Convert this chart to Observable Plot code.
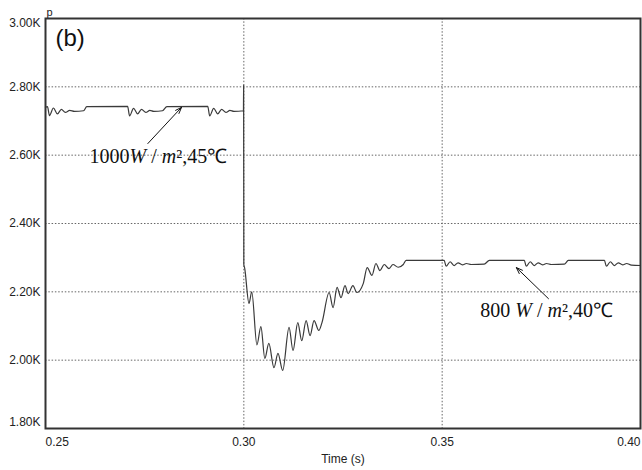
<!DOCTYPE html>
<html><head><meta charset="utf-8">
<script src="https://cdn.jsdelivr.net/npm/d3@7"></script>
<script src="https://cdn.jsdelivr.net/npm/@observablehq/plot@0.6"></script>
<style>body{margin:0;background:#fff}</style>
</head><body><div id="chart"></div>
<script>
// Time (s) and PV power p (W)
const time = [
  0.2500,0.2505,0.2510,0.2520,0.2530,0.2540,0.2550,0.2561,0.2573,0.2596,0.2604,0.2707,
  0.2712,0.2722,0.2732,0.2742,0.2753,0.2763,0.2773,0.2795,0.2806,0.2909,
  0.2914,0.2924,0.2934,0.2944,0.2955,0.2965,0.2975,0.2999,0.29995,0.3000,
  0.3002,0.3013,0.3020,0.3033,0.3043,0.3053,0.3063,0.3076,0.3086,0.3098,
  0.3114,0.3124,0.3136,0.3146,0.3157,0.3167,0.3177,0.3189,0.3197,
  0.3215,0.3225,0.3235,0.3245,0.3255,0.3263,0.3275,0.3285,0.3301,
  0.3311,0.3323,0.3333,0.3343,0.3354,0.3366,0.3376,0.3389,0.3402,0.3409,
  0.3505,0.3510,0.3520,0.3530,0.3540,0.3551,0.3561,0.3573,0.3606,0.3619,
  0.3707,0.3712,0.3722,0.3732,0.3742,0.3753,0.3763,0.3775,0.3808,0.3818,
  0.3909,0.3914,0.3924,0.3934,0.3944,0.3955,0.3965,0.3977,0.4000
];
const power = [
  2740,2742,2716,2738,2721,2734,2725,2731,2728,2730,2742,2743,
  2715,2737,2721,2734,2725,2731,2728,2730,2742,2743,
  2715,2737,2721,2734,2725,2731,2728,2730,2805,2280,
  2270,2166,2200,2045,2098,2005,2049,1978,2020,1970,
  2096,2028,2110,2057,2116,2072,2116,2087,2110,
  2198,2154,2213,2183,2218,2195,2218,2198,2224,
  2271,2248,2283,2262,2280,2268,2280,2272,2280,2292,
  2292,2275,2288,2277,2285,2279,2283,2280,2281,2292,
  2292,2275,2288,2277,2285,2279,2283,2280,2281,2292,
  2292,2275,2288,2277,2285,2279,2283,2278,2277
];
const xTicks = [0.25, 0.30, 0.35, 0.40];
const yTicks = [1800, 2000, 2200, 2400, 2600, 2800, 3000];
const panelLabel = "(b)";
const yLabel = "p";
const xLabel = "Time (s)";
const annText = ["1000W / m²,45℃", "800 W / m²,40℃"];
const annTime = [0.2611, 0.3596];
const annValue = [2578, 2125];
const arrowFromTime = [0.2758, 0.3768];
const arrowFromValue = [2634, 2180];
const arrowToTime = [0.2843, 0.3687];
const arrowToValue = [2740, 2271];

const data = time.map((t, i) => ({t, p: power[i]}));
const ann = annText.map((s, i) => ({s, t: annTime[i], p: annValue[i]}));
const arrows = arrowFromTime.map((t, i) => ({x1: t, y1: arrowFromValue[i], x2: arrowToTime[i], y2: arrowToValue[i]}));
const fmtY = d => (d / 1000).toFixed(2) + "K";
const fmtX = d => d.toFixed(2);
const gridStyle = {stroke: "#666", strokeOpacity: 1, strokeDasharray: "1.5,1.8", strokeWidth: 1};

const chart = Plot.plot({
  width: 642, height: 470,
  marginLeft: 45, marginRight: 2, marginTop: 18, marginBottom: 42,
  style: {fontFamily: "'Liberation Sans', Arial, sans-serif", fontSize: "12px", background: "#fff", color: "#222"},
  x: {domain: [0.25, 0.40], axis: null},
  y: {domain: [1800, 3000], axis: null},
  marks: [
    Plot.gridX(xTicks.slice(1, -1), gridStyle),
    Plot.gridY(yTicks.slice(1, -1), gridStyle),
    Plot.line(data, {x: "t", y: "p", stroke: "#3a3a3a", strokeWidth: 1.2, curve: "monotone-x"}),
    Plot.frame({stroke: "#333", strokeWidth: 2}),
    // y tick labels
    Plot.text(yTicks.slice(1, -1), {x: 0.25, y: d => d, text: fmtY, textAnchor: "end", dx: -5, fill: "#222"}),
    Plot.text([yTicks[0]], {x: 0.25, y: d => d, text: fmtY, textAnchor: "end", dx: -5, dy: -6, fill: "#222"}),
    Plot.text([yTicks[yTicks.length - 1]], {x: 0.25, y: d => d, text: fmtY, textAnchor: "end", dx: -5, dy: 5, fill: "#222"}),
    // x tick labels
    Plot.text([xTicks[0]], {x: d => d, y: 1800, text: fmtX, textAnchor: "start", dy: 9, lineAnchor: "top", fill: "#222"}),
    Plot.text(xTicks.slice(1, -1), {x: d => d, y: 1800, text: fmtX, textAnchor: "middle", dy: 9, lineAnchor: "top", fill: "#222"}),
    Plot.text([xTicks[xTicks.length - 1]], {x: d => d, y: 1800, text: fmtX, textAnchor: "end", dy: 9, lineAnchor: "top", fill: "#222"}),
    Plot.text([xLabel], {frameAnchor: "bottom", dy: 26, lineAnchor: "top", text: d => d, fill: "#222", fontSize: 12}),
    Plot.text([yLabel], {frameAnchor: "top-left", dx: 1, dy: -3, lineAnchor: "bottom", textAnchor: "start", text: d => d, fill: "#222", fontSize: 11}),
    Plot.text([panelLabel], {frameAnchor: "top-left", dx: 10, dy: 10, lineAnchor: "top", textAnchor: "start", text: d => d, fill: "#111", fontSize: 24}),
    // annotations
    Plot.arrow(arrows, {x1: "x1", y1: "y1", x2: "x2", y2: "y2", stroke: "#111", strokeWidth: 1, headLength: 10, headAngle: 40}),
    Plot.text(ann, {x: "t", y: "p", text: "s", textAnchor: "start", lineAnchor: "bottom", fontFamily: "'Liberation Serif', 'Times New Roman', serif", fontSize: 20, fill: "#111"})
  ]
});
// italicise the W and m symbols in the annotations
d3.select(chart).selectAll("text").each(function() {
  const el = d3.select(this);
  const s = el.text();
  if (s.includes("W /")) {
    const parts = s.split(/([Wm])/);
    el.text(null);
    parts.forEach(p => {
      if (!p) return;
      const ts = el.append("tspan").text(p);
      if (p === "W" || p === "m") ts.attr("font-style", "italic");
    });
  }
});
document.getElementById("chart").append(chart);
</script>
</body></html>
